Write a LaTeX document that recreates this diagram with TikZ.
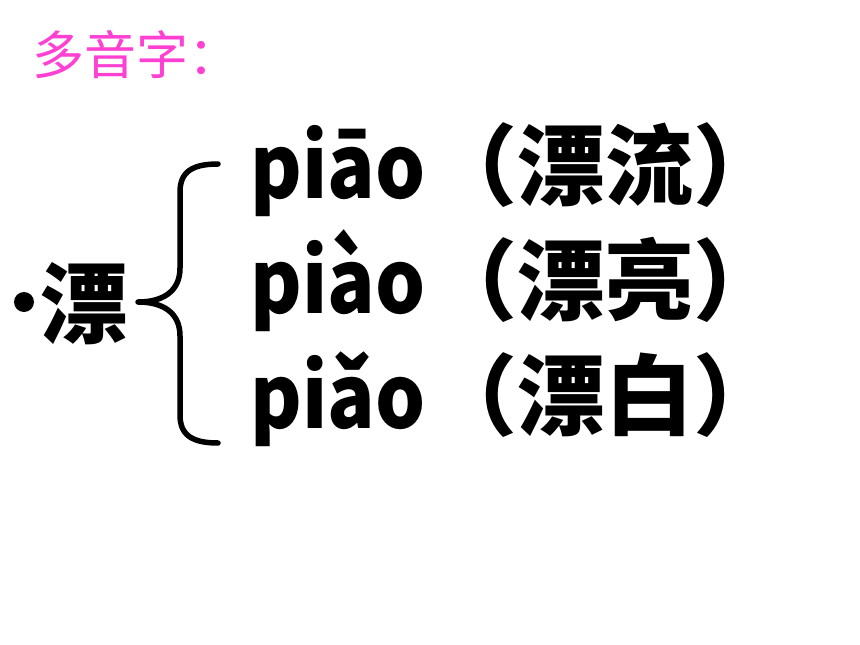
\documentclass[tikz,border=0pt]{standalone}
\usepackage{fontspec}
\newfontfamily\cjk{Noto Sans CJK SC}
\newfontfamily\pinyin{Noto Sans CJK SC}[FakeStretch = 0.895]
\definecolor{titlepink}{RGB}{255,64,210}
\tikzset{circ/.style = {fill, circle, inner sep = 0, minimum size = 20}}
\tikzset{reading/.style = {anchor = base west, inner sep = 0,
                           font = \cjk\bfseries\fontsize{88}{88}\selectfont}}
\tikzset{brace/.style = {line width = 5.5pt, line cap = round, line join = round}}
\newcommand{\py}[1]{{\pinyin\bfseries #1}\hspace{4pt}}

\begin{document}
\begin{tikzpicture}[x=1pt, y=-1pt]
    \useasboundingbox (0, 0) rectangle (860, 645);

    \node [anchor = base west, inner sep = 0, text = titlepink,
           font = \cjk\fontsize{52}{52}\selectfont] (title) at (32, 74) {多音字：};

    \node [circ] (bullet) at (24, 302) {};
    \node [reading] (head) at (40, 336) {漂};

    \coordinate (brace top) at (218, 164);
    \coordinate (brace tip) at (138, 302);
    \coordinate (brace bottom) at (218, 443);
    \draw [brace] (brace top) .. controls (192, 164) and (180, 172) .. (180, 192)
        -- (180, 268) .. controls (180, 292) and (162, 302) .. (brace tip)
        .. controls (162, 302) and (180, 312) .. (180, 336)
        -- (180, 415) .. controls (180, 435) and (192, 443) .. (brace bottom);

    \node [reading] (piao1) at (250, 198) {\py{piāo}（漂流）};
    \node [reading] (piao4) at (250, 313) {\py{piào}（漂亮）};
    \node [reading] (piao3) at (250, 428) {\py{piǎo}（漂白）};
\end{tikzpicture}
\end{document}
